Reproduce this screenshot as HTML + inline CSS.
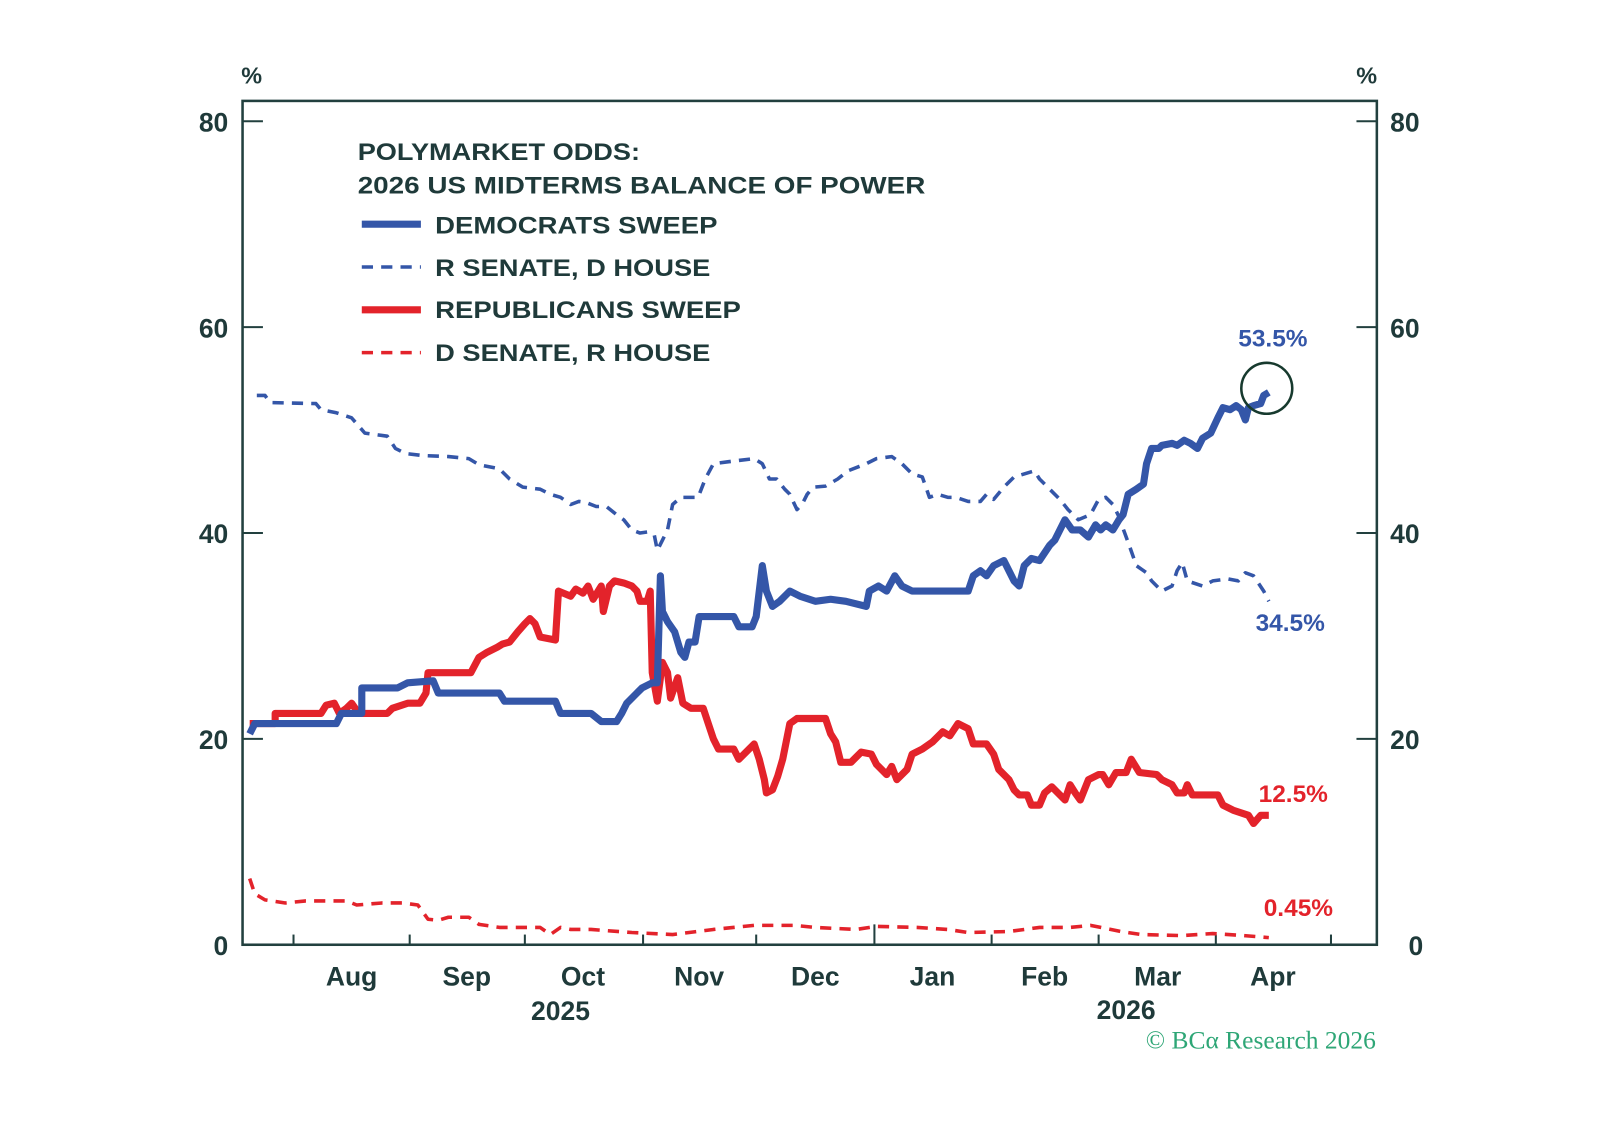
<!DOCTYPE html>
<html><head><meta charset="utf-8"><style>
html,body{margin:0;padding:0;background:#fff;}
svg{display:block;}
text{font-family:"Liberation Sans",sans-serif;fill:#1f3a3a;font-weight:bold;}
</style></head><body>
<svg width="1598" height="1144" viewBox="0 0 1568 1122.5" xmlns="http://www.w3.org/2000/svg">
<rect x="0" y="0" width="1568" height="1123" fill="#fff"/>
<rect x="238" y="99" width="1113" height="828" fill="none" stroke="#22403f" stroke-width="2.5"/>
<g stroke="#22403f" stroke-width="2">
<line x1="238" y1="119" x2="258" y2="119"/><line x1="238" y1="321" x2="258" y2="321"/><line x1="238" y1="523" x2="258" y2="523"/><line x1="238" y1="725" x2="258" y2="725"/><line x1="238" y1="927" x2="258" y2="927"/>
<line x1="1331" y1="119" x2="1351" y2="119"/><line x1="1331" y1="321" x2="1351" y2="321"/><line x1="1331" y1="523" x2="1351" y2="523"/><line x1="1331" y1="725" x2="1351" y2="725"/><line x1="1331" y1="927" x2="1351" y2="927"/>
<line x1="288" y1="927" x2="288" y2="917"/><line x1="402" y1="927" x2="402" y2="917"/><line x1="515" y1="927" x2="515" y2="917"/><line x1="631" y1="927" x2="631" y2="917"/><line x1="742" y1="927" x2="742" y2="917"/><line x1="858" y1="927" x2="858" y2="907"/><line x1="973" y1="927" x2="973" y2="917"/><line x1="1078" y1="927" x2="1078" y2="917"/><line x1="1193" y1="927" x2="1193" y2="917"/><line x1="1306" y1="927" x2="1306" y2="917"/>
</g>
<g font-size="26">
<text x="247" y="82" text-anchor="middle" font-size="23">%</text>
<text x="1341" y="82" text-anchor="middle" font-size="23">%</text>
<g text-anchor="end"><text x="224" y="129">80</text><text x="224" y="331">60</text><text x="224" y="533">40</text><text x="224" y="735">20</text><text x="224" y="937">0</text></g>
<g><text x="1364" y="129">80</text><text x="1364" y="331">60</text><text x="1364" y="533">40</text><text x="1364" y="735">20</text><text x="1382" y="937">0</text></g>
<g text-anchor="middle"><text x="345" y="967">Aug</text><text x="458" y="967">Sep</text><text x="572" y="967">Oct</text><text x="686" y="967">Nov</text><text x="800" y="967">Dec</text><text x="915" y="967">Jan</text><text x="1025" y="967">Feb</text><text x="1136" y="967">Mar</text><text x="1249" y="967">Apr</text>
<text x="550" y="1001">2025</text><text x="1105" y="1000">2026</text></g>
</g>
<text x="1350" y="1029" text-anchor="end" font-size="25" style="fill:#2ea676;font-family:'Liberation Serif',serif;font-weight:normal">© BCα Research 2026</text>
<g font-size="24" lengthAdjust="spacingAndGlyphs">
<text x="351" y="157" textLength="277" lengthAdjust="spacingAndGlyphs">POLYMARKET ODDS:</text>
<text x="351" y="190" textLength="557" lengthAdjust="spacingAndGlyphs">2026 US MIDTERMS BALANCE OF POWER</text>
<text x="427" y="229" textLength="277" lengthAdjust="spacingAndGlyphs">DEMOCRATS SWEEP</text>
<text x="427" y="271" textLength="270" lengthAdjust="spacingAndGlyphs">R SENATE, D HOUSE</text>
<text x="427" y="312" textLength="300" lengthAdjust="spacingAndGlyphs">REPUBLICANS SWEEP</text>
<text x="427" y="354" textLength="270" lengthAdjust="spacingAndGlyphs">D SENATE, R HOUSE</text>
</g>
<line x1="355" y1="220" x2="413" y2="220" stroke="#3456a8" stroke-width="7"/>
<line x1="355" y1="262" x2="413" y2="262" stroke="#3456a8" stroke-width="3.5" stroke-dasharray="11,8"/>
<line x1="355" y1="304" x2="413" y2="304" stroke="#e3232b" stroke-width="7"/>
<line x1="355" y1="346" x2="413" y2="346" stroke="#e3232b" stroke-width="3.5" stroke-dasharray="11,8"/>
<g fill="none" stroke-linejoin="round">
<polyline stroke="#e3232b" stroke-width="3.5" stroke-dasharray="11,8" points="245,862 250,877 260,883 280,886 300,884 340,884 350,888 375,886 395,886 410,888 420,902 430,903 440,900 460,900 470,907 490,910 530,910 540,917 550,910 560,912 580,912 620,915 660,917 700,912 740,908 780,908 800,910 840,912 860,909 900,910 930,912 950,915 990,914 1020,910 1050,910 1070,908 1080,910 1100,914 1120,917 1160,918 1190,916 1220,918 1245,920"/>
<polyline stroke="#3456a8" stroke-width="3.5" stroke-dasharray="11,8" points="252,388 260,388 265,395 310,396 315,402 330,405 345,410 358,425 380,428 388,440 398,445 415,447 440,448 460,450 470,456 490,460 500,470 513,478 530,480 540,485 550,488 560,495 568,492 575,493 585,497 595,497 605,505 612,510 620,520 628,523 635,522 642,525 645,540 650,530 655,520 660,495 668,488 685,488 692,470 700,455 715,453 740,450 748,455 755,470 762,470 770,480 775,485 782,500 787,495 792,485 798,478 810,477 822,470 832,462 850,455 860,450 875,448 885,455 895,465 905,468 912,488 920,485 930,488 938,488 950,492 962,492 968,485 975,490 985,478 995,468 1015,462 1020,470 1030,480 1040,490 1048,500 1058,510 1070,505 1078,490 1085,488 1092,495 1097,505 1108,535 1115,555 1125,562 1130,570 1140,580 1150,575 1155,560 1160,552 1165,570 1180,575 1190,570 1205,568 1215,570 1222,562 1230,565 1240,580 1245,590"/>
<polyline stroke="#e3232b" stroke-width="7" points="245,710 270,710 270,700 315,700 320,692 328,690 333,700 340,695 345,690 352,700 380,700 385,695 400,690 412,690 418,680 420,660 462,660 470,645 478,640 488,635 493,632 500,630 508,620 515,612 520,607 525,612 530,625 545,628 548,580 560,585 565,578 572,582 577,575 582,588 590,575 592,600 598,575 603,570 612,572 620,575 625,580 628,590 635,590 638,580 640,660 645,688 650,650 655,660 658,685 665,665 670,690 678,695 690,695 695,710 700,725 705,735 720,735 725,745 740,730 745,745 750,765 752,778 758,775 763,762 768,745 775,710 782,705 810,705 815,720 820,728 825,748 835,748 845,738 855,740 860,750 870,760 875,752 880,765 890,755 895,740 905,735 915,728 925,718 932,722 940,710 950,715 955,730 968,730 975,740 980,755 990,765 995,775 1000,780 1008,780 1012,790 1020,790 1025,778 1032,772 1038,778 1045,785 1050,770 1055,778 1060,785 1068,765 1078,760 1082,760 1088,770 1095,758 1105,758 1110,745 1118,758 1135,760 1140,765 1150,770 1155,778 1162,778 1165,770 1170,780 1195,780 1200,790 1210,795 1225,800 1230,808 1237,800 1245,800"/>
<polyline stroke="#3456a8" stroke-width="7" points="245,720 250,710 330,710 335,700 355,700 355,675 390,675 400,670 425,668 430,680 490,680 495,688 545,688 550,700 580,700 590,708 605,708 610,700 615,690 625,680 630,675 640,670 645,670 648,565 650,600 655,610 662,620 668,640 672,645 676,630 682,630 686,605 720,605 725,615 738,615 742,605 748,555 752,580 758,595 765,590 775,580 785,585 800,590 815,588 830,590 850,595 853,580 862,575 870,580 878,565 885,575 895,580 950,580 955,565 962,560 968,565 975,555 985,550 990,560 995,570 1000,575 1005,555 1012,548 1020,550 1030,535 1035,530 1045,510 1052,520 1060,520 1068,527 1075,515 1080,520 1085,515 1092,520 1098,510 1102,505 1107,485 1115,480 1122,475 1125,455 1130,440 1137,440 1140,437 1150,435 1155,437 1162,432 1168,435 1175,440 1180,430 1188,425 1195,410 1200,400 1207,402 1213,398 1218,402 1222,412 1225,400 1230,398 1237,396 1240,388 1245,385"/>
</g>
<circle cx="1243" cy="381" r="25" fill="none" stroke="#173a2e" stroke-width="2.5"/>
<g font-size="24">
<text x="1249" y="340" text-anchor="middle" style="fill:#3456a8">53.5%</text>
<text x="1266" y="619" text-anchor="middle" style="fill:#3456a8">34.5%</text>
<text x="1269" y="787" text-anchor="middle" style="fill:#e3232b">12.5%</text>
<text x="1274" y="899" text-anchor="middle" style="fill:#e3232b">0.45%</text>
</g>
</svg>
</body></html>
